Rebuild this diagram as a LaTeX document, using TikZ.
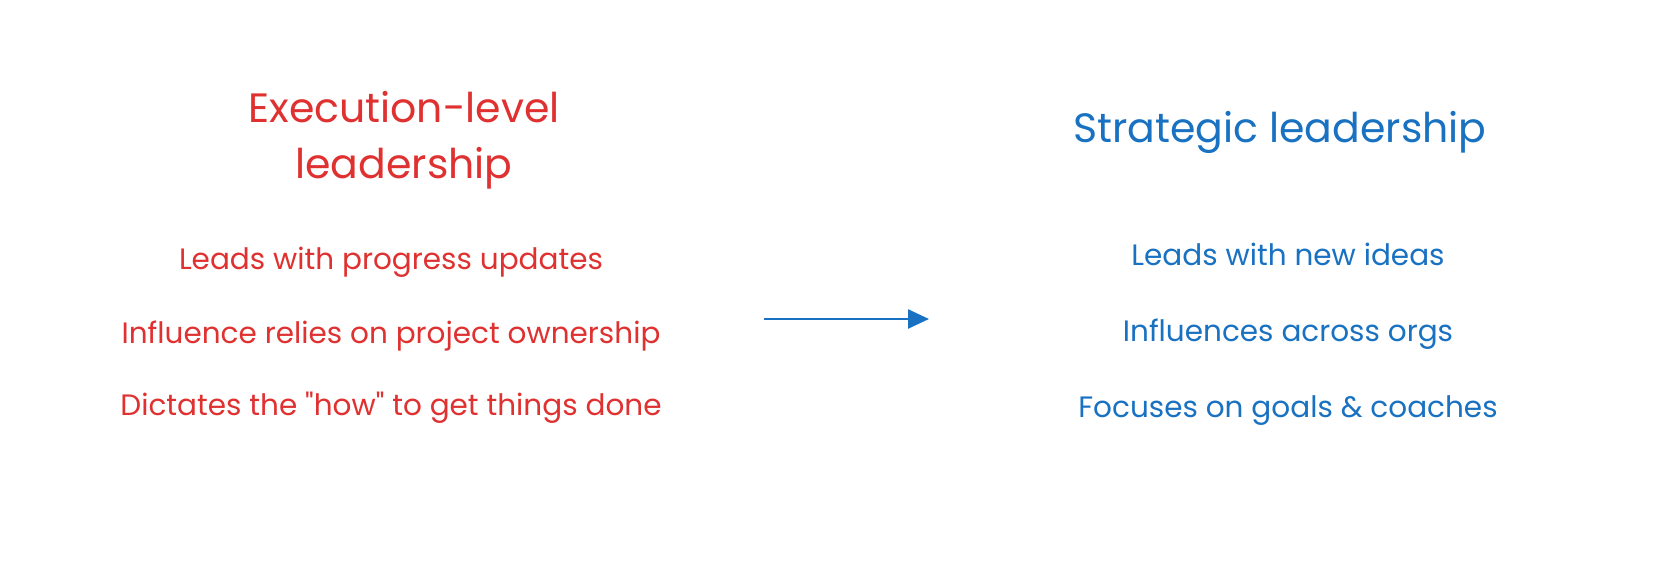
\documentclass[tikz,border=0pt]{standalone}
\usepackage{fontspec}
\setmainfont{Poppins}
\usetikzlibrary{arrows.meta}
\definecolor{exred}{HTML}{E03131}
\definecolor{exblue}{HTML}{1971C2}
\begin{document}
\begin{tikzpicture}[x=1pt,y=-1pt,
  title/.style={font=\fontsize{41}{56}\selectfont, align=center, inner sep=0pt},
  item/.style={font=\fontsize{29.5}{34}\selectfont, inner sep=0pt},
  redt/.style={text=exred}, bluet/.style={text=exblue},
  flow/.style={draw=exblue, line width=2.5pt, -{Triangle[length=21pt,width=19pt]}}]
\useasboundingbox[fill=white] (0,0) rectangle (1668,560);
\node[title,redt] (lt) at (404,140) {Execution-level\\leadership};
\node[item,redt] (l1) at (391,262) {Leads with progress updates};
\node[item,redt] (l2) at (391,336) {Influence relies on project ownership};
\node[item,redt] (l3) at (391,408) {Dictates the \textquotedbl how\textquotedbl{} to get things done};
\node[title,bluet] (rt) at (1280,132) {Strategic leadership};
\node[item,bluet] (r1) at (1288,254) {Leads with new ideas};
\node[item,bluet] (r2) at (1288,334) {Influences across orgs};
\node[item,bluet] (r3) at (1288,411) {Focuses on goals \& coaches};
\coordinate (as) at (764,319);
\coordinate (ae) at (929,319);
\draw[flow] (as) -- (ae);
\end{tikzpicture}
\end{document}
